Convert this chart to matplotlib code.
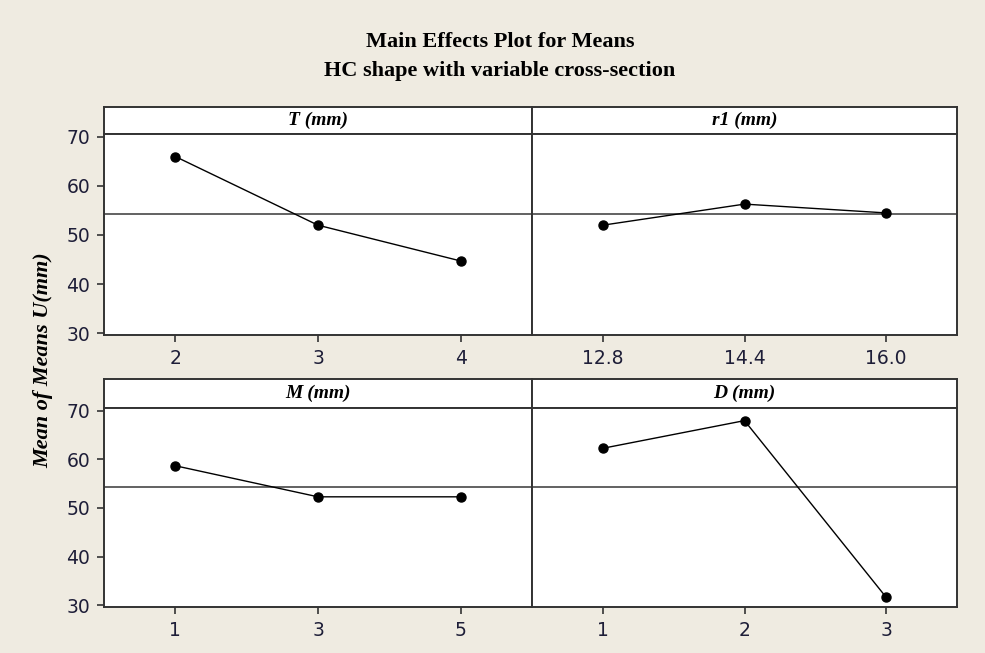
import numpy as np
import matplotlib
matplotlib.use("Agg")
import matplotlib.pyplot as plt

# factor levels and mean response
factors = ["T (mm)", "r1 (mm)", "M (mm)", "D (mm)"]
levels = [["2", "3", "4"],
          ["12.8", "14.4", "16.0"],
          ["1", "3", "5"],
          ["1", "2", "3"]]
means = [[66.0, 52.0, 44.7],
         [52.0, 56.3, 54.5],
         [58.7, 52.3, 52.3],
         [62.3, 68.0, 31.6]]
yticks = [30, 40, 50, 60, 70]
grand_mean = np.mean(means)

W, H = 985, 653
BG = "#efebe1"
FRAME = "#333333"

fig = plt.figure(figsize=(W / 100, H / 100), dpi=100, facecolor=BG)


def px(left, top, right, bottom):
    # pixel box -> figure fraction rect
    return [left / W, 1 - bottom / H, (right - left) / W, (bottom - top) / H]


fig.text(500 / W, 1 - 42 / H, "Main Effects Plot for Means", ha="center", va="center",
         family="Liberation Serif", weight="bold", fontsize=16)
fig.text(500 / W, 1 - 71 / H, "HC shape with variable cross-section", ha="center", va="center",
         family="Liberation Serif", weight="bold", fontsize=16)
fig.text(43 / W, 1 - 360 / H, "Mean of Means U(mm)", rotation=90, ha="center", va="center",
         family="Liberation Serif", weight="bold", style="italic", fontsize=16)

rows = [(107, 134, 335), (379, 408, 607)]
cols = [(104, 532), (532, 957)]

for i in range(4):
    r, c = divmod(i, 2)
    top, strip_bot, bot = rows[r]
    left, right = cols[c]

    # strip with factor name
    sax = fig.add_axes(px(left, top, right, strip_bot))
    sax.set_facecolor("white")
    sax.set_xticks([])
    sax.set_yticks([])
    for s in sax.spines.values():
        s.set_color(FRAME)
        s.set_linewidth(1.4)
    sax.text(0.5, 0.5, factors[i], transform=sax.transAxes, ha="center", va="center",
             family="Liberation Serif", weight="bold", style="italic", fontsize=14)

    ax = fig.add_axes(px(left, strip_bot, right, bot))
    ax.set_facecolor("white")
    x = np.arange(len(levels[i]))
    ax.axhline(grand_mean, color="#555555", lw=1.3, zorder=1)
    ax.plot(x, means[i], color="black", lw=1.0, marker="o", ms=6.5, zorder=3)
    ax.set_xlim(-0.5, len(levels[i]) - 0.5)
    ax.set_ylim(29.6, 70.6)
    ax.set_xticks(x)
    ax.set_xticklabels(levels[i])
    ax.set_yticks(yticks)
    for s in ax.spines.values():
        s.set_color(FRAME)
        s.set_linewidth(1.4)
    ax.tick_params(direction="out", length=5, width=1.2, color=FRAME,
                   labelsize=13.5, labelcolor="#1e1e38", pad=5)
    if c == 1:
        ax.tick_params(axis="y", left=False, labelleft=False)

fig.savefig("out.png", dpi=100, facecolor=BG)
